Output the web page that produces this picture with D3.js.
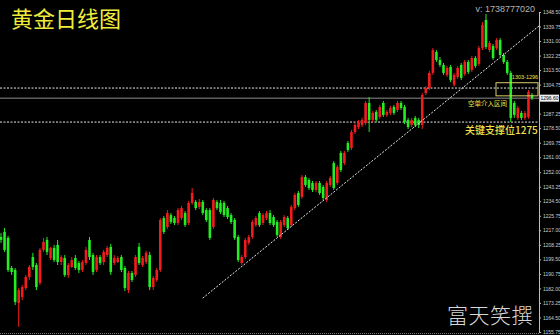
<!DOCTYPE html>
<html>
<head>
<meta charset="utf-8">
<script src="https://cdn.jsdelivr.net/npm/d3@7/dist/d3.min.js"></script>
<style>
  html, body { margin: 0; padding: 0; background: #000; }
  svg { display: block; }
</style>
</head>
<body>
<svg id="chart" width="560" height="335"></svg>
<script>
// Daily gold candles (oldest first)
const open = [1213.0,1216.0,1212.4,1194.3,1193.1,1173.2,1176.8,1182.2,1188.9,1200.9,1196.1,1185.3,1205.2,1211.2,1200.3,1206.4,1208.2,1197.9,1200.3,1190.1,
  1194.9,1200.3,1197.3,1193.1,1197.3,1211.2,1202.1,1193.1,1200.9,1197.9,1202.1,1207.0,1197.3,1197.9,1200.9,1194.3,1181.0,1191.3,1190.1,1207.0,
  1196.1,1197.9,1202.1,1182.8,1187.1,1193.1,1224.4,1219.0,1226.2,1224.4,1221.4,1224.4,1227.4,1221.4,1233.5,1234.1,1231.1,1234.1,1229.2,1229.2,
  1219.0,1234.1,1233.5,1233.5,1230.4,1226.2,1223.2,1213.0,1197.3,1200.9,1209.4,1213.0,1220.2,1227.4,1221.4,1224.4,1227.4,1225.0,1222.0,1213.0,
  1220.2,1224.4,1220.2,1230.4,1239.5,1237.1,1249.1,1247.3,1245.5,1241.3,1245.5,1243.1,1235.3,1244.3,1257.5,1245.5,1263.6,1257.5,1269.6,1266.6,
  1276.2,1279.2,1280.4,1281.6,1293.7,1283.5,1288.3,1285.3,1293.7,1286.5,1287.7,1291.3,1289.5,1293.7,1291.3,1283.5,1280.4,1284.7,1283.5,1280.4,
  1299.7,1302.7,1311.8,1324.4,1319.6,1316.6,1310.6,1315.4,1304.7,1309.4,1316.6,1311.2,1318.4,1313.6,1320.8,1317.2,1326.8,1343.7,1325.6,1328.0,
  1326.8,1331.6,1322.6,1318.4,1311.8,1293.7,1284.7,1287.7,1284.7,1285.3,1298.5];
const high = [1215.4,1218.4,1213.6,1195.5,1194.3,1182.2,1184.0,1190.1,1196.1,1203.4,1197.3,1206.4,1212.4,1213.0,1207.0,1208.2,1211.2,1202.1,1202.1,1197.3,
  1200.9,1202.1,1198.5,1199.1,1207.0,1213.0,1203.4,1202.1,1202.1,1205.2,1207.6,1208.8,1202.1,1201.5,1202.1,1195.5,1192.5,1192.5,1202.1,1209.4,
  1201.5,1204.6,1204.0,1189.5,1194.3,1224.4,1225.6,1229.2,1227.4,1225.6,1230.4,1231.7,1228.6,1234.7,1242.5,1235.3,1235.9,1235.3,1230.4,1230.4,
  1236.5,1235.3,1235.3,1234.7,1231.7,1227.4,1224.4,1214.2,1202.1,1212.4,1214.2,1223.2,1225.6,1228.6,1227.4,1228.6,1229.2,1226.2,1223.2,1223.2,
  1226.2,1225.6,1232.3,1239.5,1240.7,1250.3,1250.3,1248.5,1246.7,1246.7,1246.7,1244.3,1246.7,1249.7,1258.7,1256.3,1264.8,1264.8,1270.8,1277.4,
  1281.6,1283.5,1284.7,1294.9,1297.3,1288.9,1289.5,1292.5,1294.9,1289.5,1291.9,1292.5,1294.9,1294.9,1292.5,1284.7,1284.7,1285.9,1284.7,1299.7,
  1303.9,1313.0,1326.8,1325.6,1321.4,1317.8,1316.0,1316.6,1311.8,1316.0,1317.8,1319.6,1319.6,1322.0,1322.0,1328.0,1342.5,1347.3,1331.0,1329.2,
  1332.8,1332.8,1323.8,1319.6,1313.0,1294.9,1291.9,1288.9,1288.9,1301.5,1299.7];
const low = [1209.4,1204.0,1191.9,1190.1,1172.0,1158.8,1175.0,1181.0,1187.1,1193.1,1181.0,1184.0,1204.0,1202.1,1199.1,1197.9,1196.1,1196.1,1188.9,1188.3,
  1194.3,1193.1,1191.3,1191.9,1196.1,1199.1,1190.1,1191.9,1196.1,1196.1,1200.9,1190.1,1196.1,1197.3,1191.9,1180.4,1179.2,1185.9,1188.9,1196.1,
  1194.9,1196.7,1181.0,1181.0,1185.9,1191.9,1214.8,1217.8,1220.8,1220.2,1220.2,1223.2,1219.0,1220.2,1232.3,1229.2,1229.8,1226.2,1222.0,1211.2,
  1217.8,1229.2,1226.8,1225.0,1223.8,1220.8,1211.2,1197.9,1196.1,1199.7,1208.2,1211.8,1219.0,1219.0,1220.2,1223.2,1220.2,1219.0,1213.0,1211.8,
  1219.0,1217.2,1219.0,1229.2,1231.1,1235.9,1243.1,1241.3,1240.1,1240.1,1238.3,1235.3,1234.1,1243.1,1241.3,1244.3,1252.1,1256.3,1264.2,1265.4,
  1275.0,1278.0,1279.2,1280.4,1276.2,1282.2,1282.2,1284.1,1285.3,1285.3,1286.5,1286.5,1288.3,1289.5,1281.0,1278.0,1279.2,1279.2,1278.6,1278.0,
  1298.5,1301.5,1310.6,1318.4,1315.4,1310.6,1309.4,1306.3,1303.5,1308.2,1307.5,1310.0,1311.2,1312.4,1314.8,1316.0,1325.6,1326.2,1324.4,1319.6,
  1325.6,1321.4,1317.2,1310.6,1282.2,1284.7,1283.5,1283.5,1283.5,1284.1,1295.5];
const close = [1211.2,1205.2,1193.1,1191.9,1173.8,1181.0,1182.8,1188.9,1194.9,1194.9,1182.8,1205.2,1210.0,1204.0,1206.4,1199.1,1197.9,1200.9,1190.1,1196.1,
  1199.1,1194.3,1193.1,1197.9,1205.2,1200.9,1191.9,1200.9,1197.3,1204.0,1206.4,1191.9,1200.3,1200.3,1193.1,1182.2,1191.3,1187.1,1200.9,1197.3,
  1200.3,1203.4,1182.8,1188.3,1193.1,1223.2,1216.0,1227.4,1222.0,1221.4,1229.2,1230.4,1220.2,1233.5,1239.5,1230.4,1234.1,1227.4,1223.2,1212.4,
  1235.3,1230.4,1228.0,1226.2,1225.0,1222.0,1212.4,1199.1,1200.9,1211.2,1213.0,1222.0,1224.4,1220.2,1226.2,1227.4,1221.4,1220.2,1214.2,1222.0,
  1225.0,1218.4,1231.1,1238.3,1232.3,1249.1,1244.3,1242.5,1241.3,1245.5,1239.5,1236.5,1245.5,1248.5,1242.5,1255.1,1253.3,1263.6,1265.4,1276.2,
  1280.4,1282.2,1283.5,1293.7,1283.5,1287.7,1283.5,1291.3,1286.5,1288.3,1290.7,1287.7,1293.7,1290.7,1282.2,1279.2,1283.5,1280.4,1280.4,1298.5,
  1302.7,1311.8,1325.6,1319.6,1316.6,1311.8,1314.8,1307.5,1310.6,1314.8,1308.8,1318.4,1312.4,1320.8,1316.0,1326.8,1340.7,1327.4,1329.8,1320.8,
  1331.6,1322.6,1318.4,1311.8,1284.7,1286.5,1290.7,1284.7,1287.7,1300.3,1296.6];

// Price scale labels on the right
const priceTicks = [1348.50,1339.75,1331.00,1322.25,1313.50,1304.75,1287.25,1278.50,1269.75,1261.00,1252.00,
  1243.25,1234.50,1225.75,1217.00,1208.25,1199.50,1190.75,1182.00,1173.25,1164.50,1155.75];

// Annotated levels
const resistanceLevel = 1302.7;   // upper dashed line
const supportLevel = 1282.2;      // lower dashed line
const zoneTop = 1305.9, zoneBottom = 1298.0;   // short-entry box
const trendStart = {i: 57, price: 1176.2};
const trendEnd = {i: 152, price: 1340.1};

const title = "黄金日线图";
const versionText = "v:  1738777020";
const zoneLabel = "1303-1296";
const entryLabel = "空单介入区间";
const supportLabel = "关键支撑位1275";
const signature = "富天笑撰";

const plotRight = 539;
const svg = d3.select("#chart");

const N = open.length;
const x = d3.scaleLinear().domain([0, N - 1]).range([1, 532]);
const y = d3.scaleLinear().domain([1155.75, 1348.50]).range([332, 12]);

const UP = "#f21c1c", DOWN = "#22ee22";
const bars = d3.range(N).map(i => ({i, o: open[i], h: high[i], l: low[i], c: close[i]}));

// Horizontal levels
[resistanceLevel, supportLevel].forEach(v => {
  svg.append("line")
    .attr("x1", 0).attr("x2", plotRight)
    .attr("y1", y(v)).attr("y2", y(v))
    .attr("stroke", "#e8e8e8").attr("stroke-width", 1).attr("stroke-dasharray", "2,1.5");
});

// Last price line
const last = close[N - 1];
svg.append("line")
  .attr("x1", 0).attr("x2", plotRight)
  .attr("y1", y(last)).attr("y2", y(last))
  .attr("stroke", "#8c8c8c").attr("stroke-width", 1);

// Candles
const g = svg.append("g");
g.selectAll("line.wick").data(bars).join("line")
  .attr("class", "wick")
  .attr("x1", d => x(d.i)).attr("x2", d => x(d.i))
  .attr("y1", d => y(d.h)).attr("y2", d => y(d.l))
  .attr("stroke", d => d.c >= d.o ? UP : DOWN).attr("stroke-width", 1);
g.selectAll("rect.body").data(bars).join("rect")
  .attr("class", "body")
  .attr("x", d => x(d.i) - 1.3).attr("width", 2.6)
  .attr("y", d => y(Math.max(d.o, d.c)))
  .attr("height", d => Math.max(1, Math.abs(y(d.o) - y(d.c))))
  .attr("fill", d => d.c >= d.o ? UP : DOWN);

// Trend line
svg.append("line")
  .attr("x1", x(trendStart.i)).attr("y1", y(trendStart.price))
  .attr("x2", x(trendEnd.i)).attr("y2", y(trendEnd.price))
  .attr("stroke", "#e8e8e8").attr("stroke-width", 1).attr("stroke-dasharray", "2,1.5");

// Entry zone box
svg.append("rect")
  .attr("x", 496).attr("width", 42)
  .attr("y", y(zoneTop)).attr("height", y(zoneBottom) - y(zoneTop))
  .attr("fill", "none").attr("stroke", "#d8cf6a").attr("stroke-width", 1);

// Right price axis
const axis = d3.axisRight(y).tickValues(priceTicks).tickFormat(d3.format(".2f")).tickSize(2).tickPadding(2);
const ax = svg.append("g").attr("transform", `translate(${plotRight},0)`).call(axis);
ax.select(".domain").attr("stroke", "#bdbdbd");
ax.selectAll(".tick line").attr("stroke", "#bdbdbd");
ax.selectAll(".tick text").attr("fill", "#cfcfcf").attr("font-size", 5)
  .attr("font-family", "Liberation Sans, Arial, sans-serif");

// Last price tag
svg.append("rect").attr("x", 540).attr("y", y(last) - 3.5).attr("width", 19).attr("height", 7).attr("fill", "#f0f0f0");
svg.append("text").attr("x", 549.5).attr("y", y(last) + 1.8).attr("text-anchor", "middle")
  .attr("font-size", 5).attr("font-family", "Liberation Sans, Arial, sans-serif").attr("fill", "#000")
  .text(d3.format(".2f")(last));

// Bottom border
svg.append("line").attr("x1", 0).attr("x2", plotRight).attr("y1", 333.5).attr("y2", 333.5)
  .attr("stroke", "#777").attr("stroke-dasharray", "1,1");

// Texts
const cjk = "'Noto Sans CJK SC', sans-serif";
svg.append("text").attr("x", 11).attr("y", 27).attr("font-size", 22).attr("font-family", cjk)
  .attr("fill", "#f0ec3a").text(title);
svg.append("text").attr("x", 535).attr("y", 12).attr("text-anchor", "end").attr("font-size", 9)
  .attr("font-family", "Liberation Sans, Arial, sans-serif").attr("fill", "#b4b4b4").text(versionText);
svg.append("text").attr("x", 525).attr("y", 79).attr("text-anchor", "middle").attr("font-size", 5.5)
  .attr("font-family", "Liberation Sans, Arial, sans-serif").attr("fill", "#f0e04a").text(zoneLabel);
svg.append("text").attr("x", 468).attr("y", 106).attr("font-size", 6.5).attr("font-family", cjk)
  .attr("fill", "#f0e04a").text(entryLabel);
svg.append("text").attr("x", 465).attr("y", 134).attr("font-size", 10).attr("font-family", cjk)
  .attr("font-weight", 500).attr("fill", "#f0e04a").text(supportLabel);
svg.append("text").attr("x", 447).attr("y", 323).attr("font-size", 21).attr("font-family", cjk)
  .attr("font-weight", 300).attr("letter-spacing", 0.5).attr("fill", "#d8d8d8").text(signature);
</script>
</body>
</html>
